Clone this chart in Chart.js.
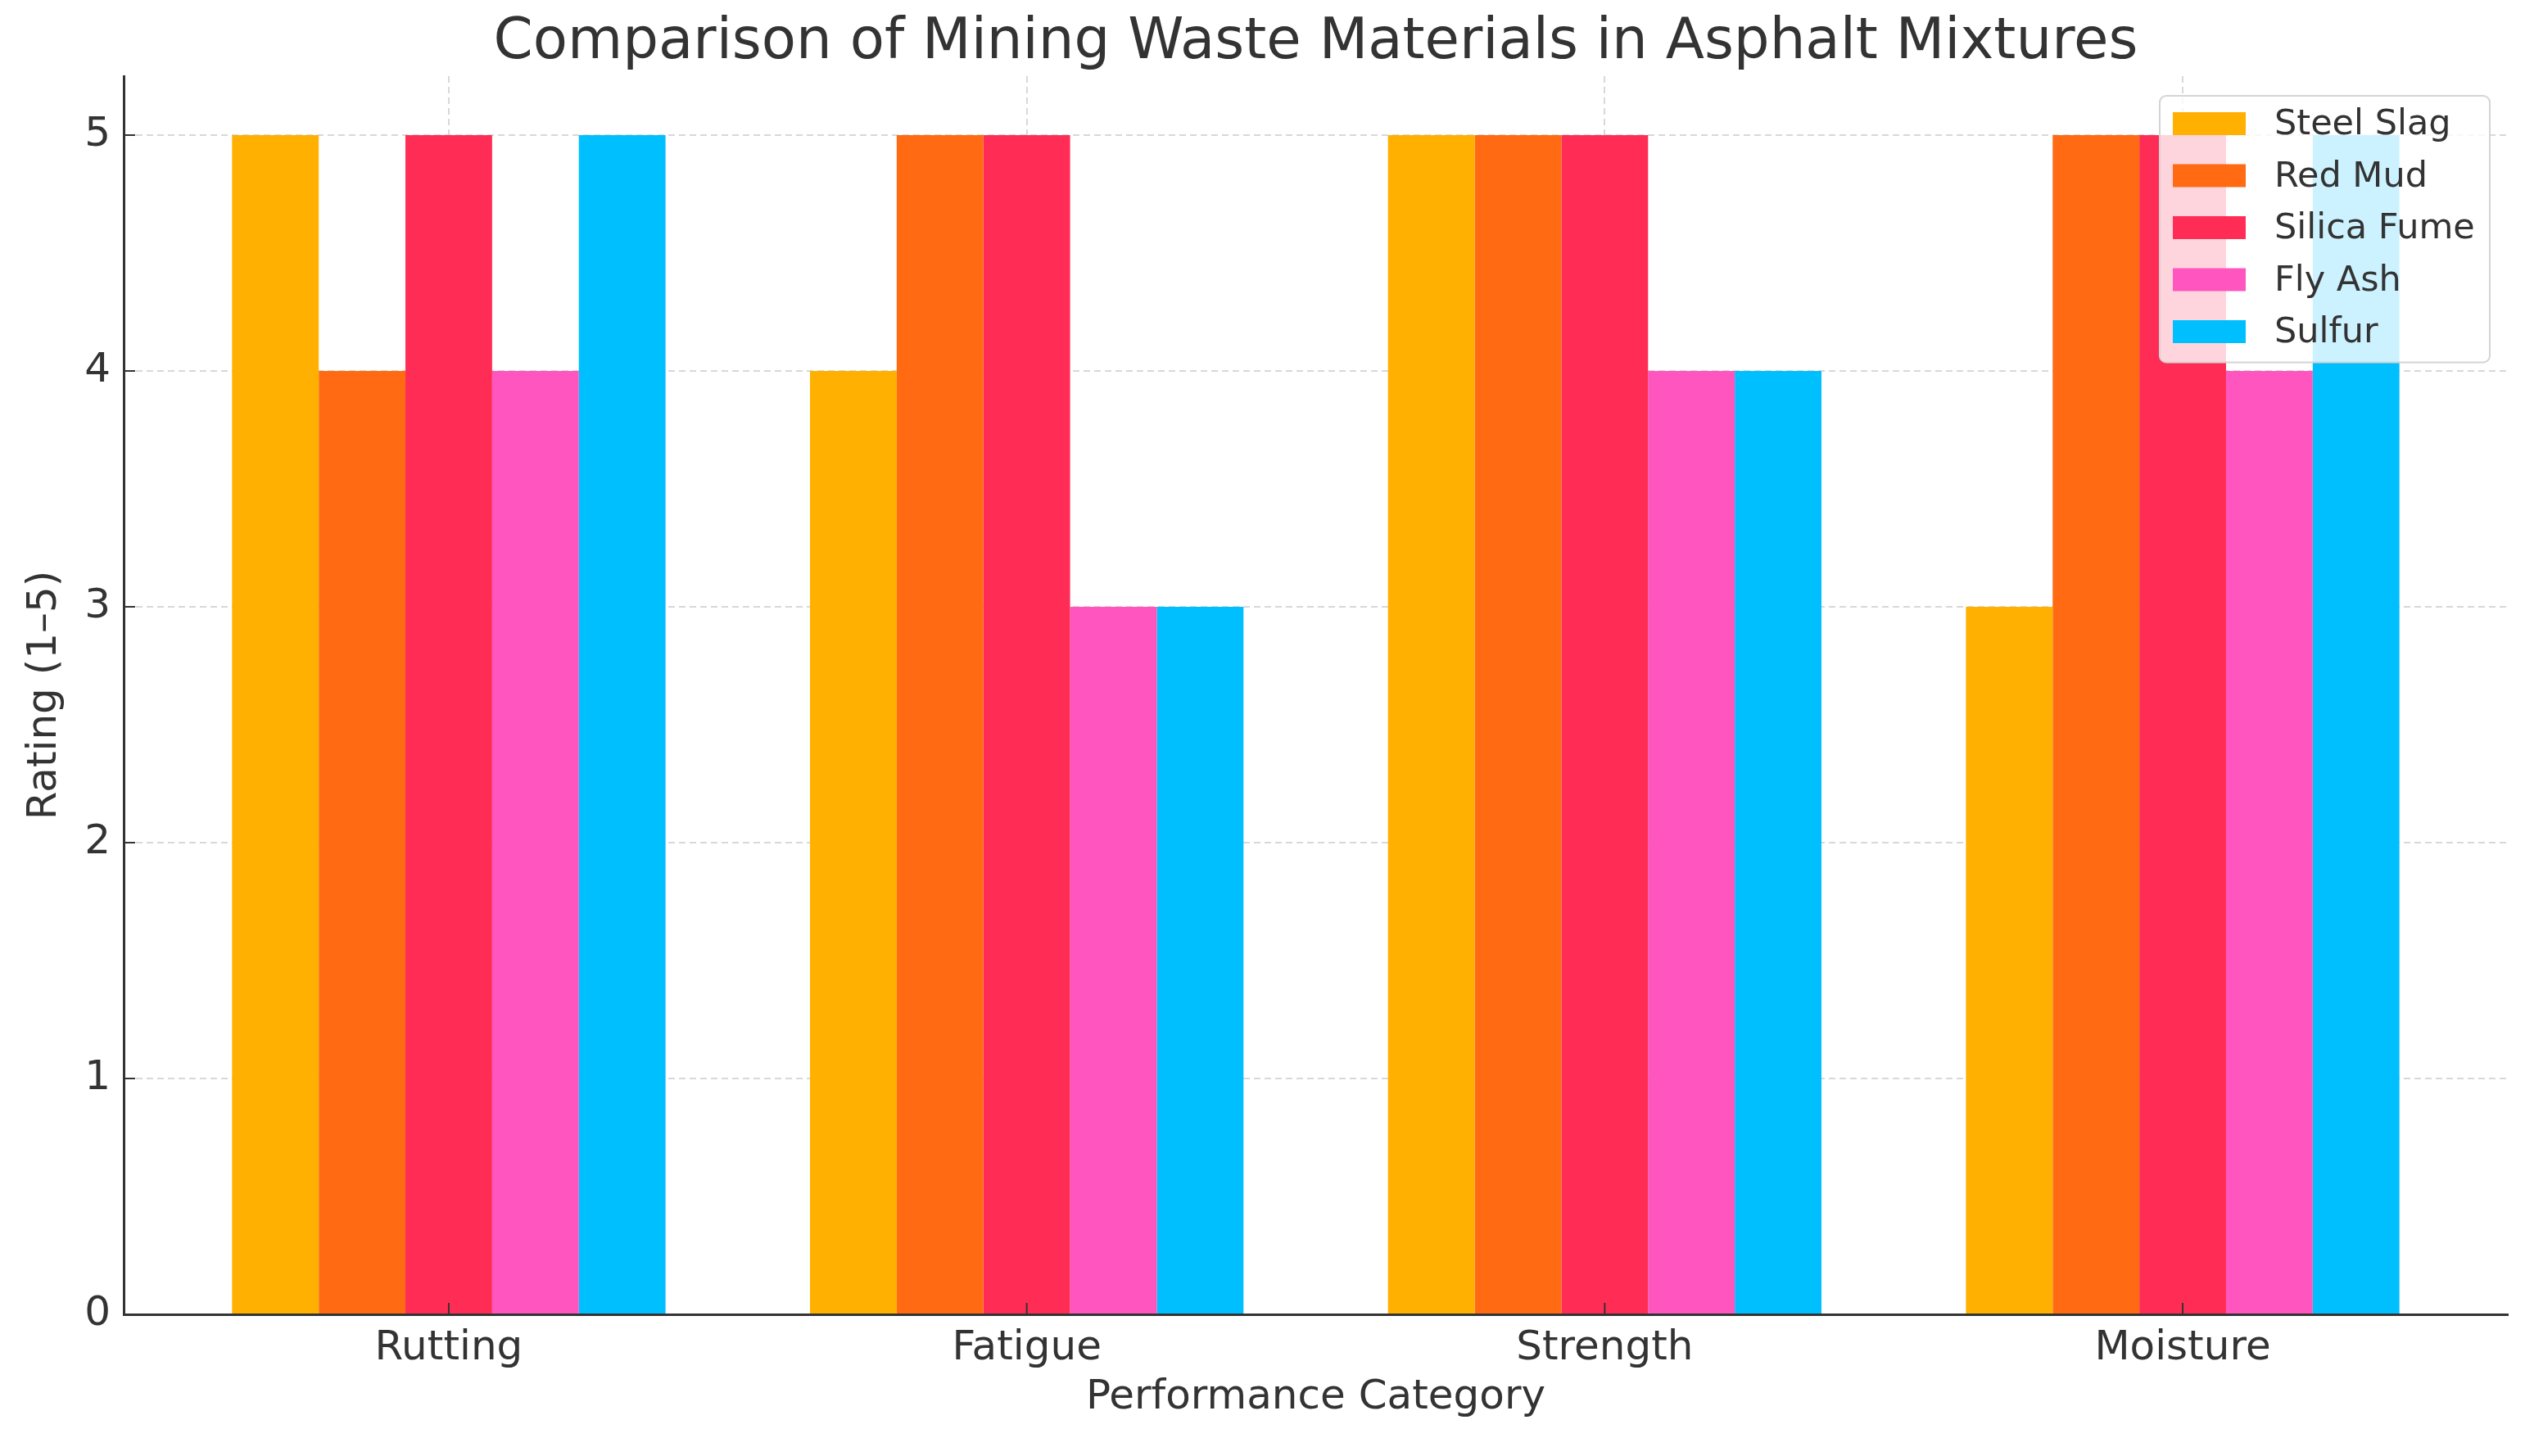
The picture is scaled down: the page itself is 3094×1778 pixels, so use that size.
<!DOCTYPE html>
<html>
<head>
<meta charset="utf-8">
<script src="https://cdn.jsdelivr.net/npm/chart.js@4.4.1/dist/chart.umd.min.js"></script>
<style>
  html, body { margin: 0; padding: 0; background: #fff; }
  #chart { display: block; }
</style>
</head>
<body>
<canvas id="chart" width="3094" height="1778"></canvas>
<script>
// ratings 1–5 per material, one value per category
const CATEGORIES = ["Rutting", "Fatigue", "Strength", "Moisture"];
const MATERIALS = ["Steel Slag", "Red Mud", "Silica Fume", "Fly Ash", "Sulfur"];
const STEEL_SLAG = [5, 4, 5, 3];
const RED_MUD = [4, 5, 5, 5];
const SILICA_FUME = [5, 5, 5, 5];
const FLY_ASH = [4, 3, 4, 4];
const SULFUR = [5, 3, 4, 5];
const Y_TICKS = [0, 1, 2, 3, 4, 5];
const TITLE = "Comparison of Mining Waste Materials in Asphalt Mixtures";

const COLORS = ["#ffb000", "#ff6a13", "#ff2d55", "#ff55bf", "#00bfff"];
const INK = "#333333";
const GRID = "rgba(200, 200, 200, 0.7)";
const DASH = [8, 5];

Chart.defaults.font.family = '"DejaVu Sans", sans-serif';
Chart.defaults.color = INK;

const SERIES = [STEEL_SLAG, RED_MUD, SILICA_FUME, FLY_ASH, SULFUR];

// title centred over the plot area, not the whole canvas
const plotTitle = {
  id: "plotTitle",
  afterDraw(chart) {
    const { ctx, chartArea: a } = chart;
    ctx.save();
    ctx.font = '69px "DejaVu Sans"';
    ctx.fillStyle = INK;
    ctx.textAlign = "center";
    ctx.textBaseline = "alphabetic";
    ctx.fillText(TITLE, (a.left + a.right) / 2, a.top - 22);
    ctx.restore();
  },
};

// matplotlib-style inward tick marks
const inwardTicks = {
  id: "inwardTicks",
  afterDraw(chart) {
    const { ctx, chartArea: a, scales: { x, y } } = chart;
    ctx.save();
    ctx.strokeStyle = INK;
    ctx.lineWidth = 2;
    ctx.beginPath();
    x.ticks.forEach((t) => {
      const px = x.getPixelForValue(t.value);
      ctx.moveTo(px, a.bottom);
      ctx.lineTo(px, a.bottom - 14);
    });
    y.ticks.forEach((t) => {
      const py = y.getPixelForValue(t.value);
      ctx.moveTo(a.left, py);
      ctx.lineTo(a.left + 14, py);
    });
    ctx.stroke();
    ctx.restore();
  },
};

// legend box inside the plot, upper right, semi-transparent
const boxLegend = {
  id: "boxLegend",
  afterDraw(chart) {
    const { ctx, chartArea: a } = chart;
    const w = 403, rowH = 63.5;
    const left = a.right - 22 - w, top = a.top + 24;
    const h = rowH * chart.data.datasets.length + 8;
    ctx.save();
    ctx.beginPath();
    ctx.roundRect(left, top, w, h, 8);
    ctx.fillStyle = "rgba(255,255,255,0.8)";
    ctx.fill();
    ctx.strokeStyle = "#d4d4d4";
    ctx.lineWidth = 2;
    ctx.stroke();
    ctx.font = '43px "DejaVu Sans"';
    ctx.textBaseline = "middle";
    chart.data.datasets.forEach((ds, i) => {
      const cy = top + 34 + i * rowH;
      ctx.fillStyle = ds.backgroundColor;
      ctx.fillRect(left + 16, cy - 14, 89, 28);
      ctx.fillStyle = INK;
      ctx.fillText(ds.label, left + 140, cy + 2);
    });
    ctx.restore();
  },
};

new Chart(document.getElementById("chart"), {
  type: "bar",
  data: {
    datasets: MATERIALS.map((m, k) => ({
      label: m,
      data: SERIES[k].map((v, i) => ({ x: i, y: v })),
      backgroundColor: COLORS[k],
      borderWidth: 0,
      categoryPercentage: 0.75,
      barPercentage: 1.0,
    })),
  },
  options: {
    responsive: false,
    devicePixelRatio: 1,
    animation: false,
    layout: { padding: { left: 0, right: 32, top: 93, bottom: 0 } },
    plugins: {
      legend: { display: false },
      tooltip: { enabled: false },
      title: { display: false },
    },
    scales: {
      x: {
        type: "linear",
        offset: false,
        min: -0.5625,
        max: 3.5625,
        z: 1,
        afterBuildTicks: (s) => { s.ticks = CATEGORIES.map((_, i) => ({ value: i })); },
        afterFit: (s) => { s.height = 173; },
        ticks: {
          callback: (v) => CATEGORIES[v] ?? "",
          font: { size: 50 },
          color: INK,
          padding: 12,
          maxRotation: 0,
        },
        grid: { color: GRID, lineWidth: 2, drawTicks: false, offset: false },
        border: { color: INK, width: 3, dash: DASH },
        title: {
          display: true,
          text: "Performance Category",
          color: INK,
          font: { size: 50, lineHeight: 1 },
          padding: { top: 0, bottom: 46 },
        },
      },
      y: {
        min: 0,
        max: 5.25,
        z: 1,
        afterBuildTicks: (s) => { s.ticks = Y_TICKS.map((v) => ({ value: v })); },
        afterFit: (s) => { s.width = 151; },
        ticks: { font: { size: 50 }, color: INK, padding: 16 },
        grid: { color: GRID, lineWidth: 2, drawTicks: false },
        border: { color: INK, width: 3, dash: DASH },
        title: {
          display: true,
          text: "Rating (1–5)",
          color: INK,
          font: { size: 50, lineHeight: 1 },
          padding: { top: 30, bottom: 0 },
        },
      },
    },
  },
  plugins: [plotTitle, inwardTicks, boxLegend],
});
</script>
</body>
</html>
